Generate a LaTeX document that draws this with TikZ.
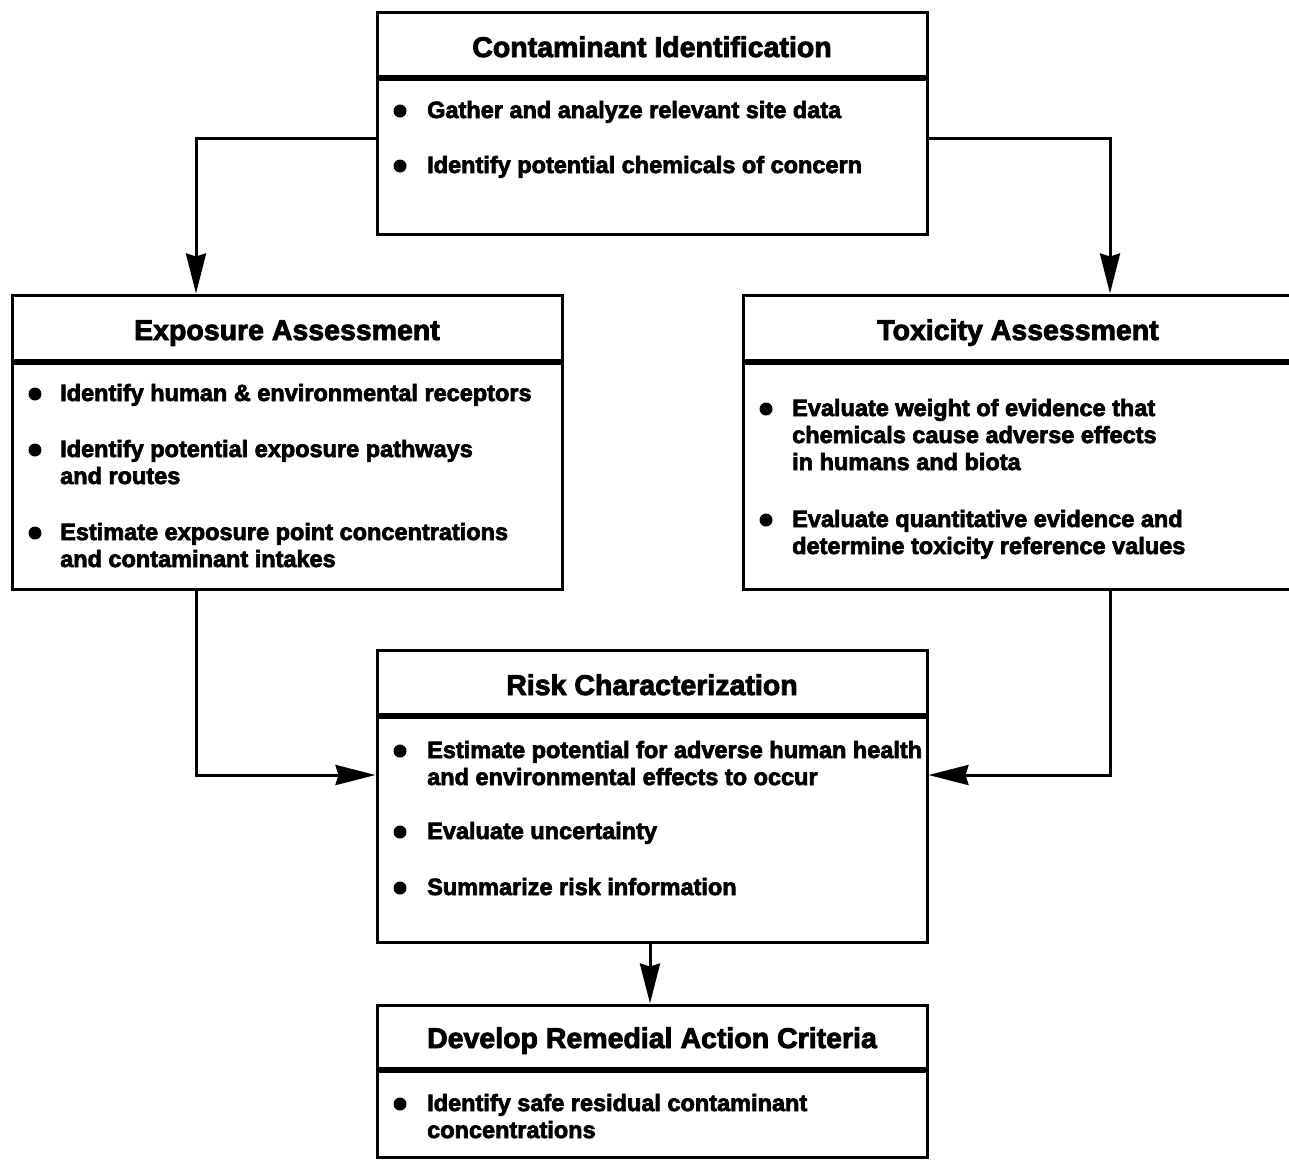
\documentclass[tikz,border=0pt]{standalone}
\usepackage{fontspec}
\setmainfont{Liberation Sans}
\newfontfamily\heavy{Liberation Sans Bold}[FakeBold=3]
\usetikzlibrary{arrows.meta}
\tikzset{
  box/.style={draw, line width=3pt, rectangle, inner sep=0pt},
  ttl/.style={font=\heavy\fontsize{28.5}{30}\selectfont, inner sep=0pt, anchor=base},
  btxt/.style={font=\heavy\fontsize{23.5}{27}\selectfont, inner sep=0pt, anchor=base west, align=left},
  dot/.style={circle, fill, inner sep=0pt, minimum size=13pt},
  divl/.style={line width=6pt},
  arr/.style={line width=3pt, -{Stealth[length=40pt,width=20pt,inset=3pt]}},
}
\begin{document}
\begin{tikzpicture}[x=1pt,y=-1pt]
\useasboundingbox (0,0) rectangle (1289,1159);

% Contaminant Identification
\node[box, minimum width=550pt, minimum height=222pt] (ci) at (652,123) {};
\node[ttl] (ci-t) at (652,57) {Contaminant Identification};
\draw[divl] (ci.west |- 0,78) -- (ci.east |- 0,78);
\node[dot] (ci-d1) at (400,111) {};
\node[btxt] (ci-b1) at (427,118) {Gather and analyze relevant site data};
\node[dot] (ci-d2) at (400,166) {};
\node[btxt] (ci-b2) at (427,173) {Identify potential chemicals of concern};

% Exposure Assessment
\node[box, minimum width=550pt, minimum height=294pt] (ea) at (287,442) {};
\node[ttl] (ea-t) at (287,340) {Exposure Assessment};
\draw[divl] (ea.west |- 0,362) -- (ea.east |- 0,362);
\node[dot] (ea-d1) at (35,394) {};
\node[btxt] (ea-b1) at (60,401) {Identify human \& environmental receptors};
\node[dot] (ea-d2) at (35,450) {};
\node[btxt] (ea-b2) at (60,484) {Identify potential exposure pathways\\and routes};
\node[dot] (ea-d3) at (35,533) {};
\node[btxt] (ea-b3) at (60,567) {Estimate exposure point concentrations\\and contaminant intakes};

% Toxicity Assessment
\node[box, minimum width=550pt, minimum height=294pt] (ta) at (1018,442) {};
\node[ttl] (ta-t) at (1018,340) {Toxicity Assessment};
\draw[divl] (ta.west |- 0,362) -- (ta.east |- 0,362);
\node[dot] (ta-d1) at (766,409) {};
\node[btxt] (ta-b1) at (792,470) {Evaluate weight of evidence that\\chemicals cause adverse effects\\in humans and biota};
\node[dot] (ta-d2) at (766,520) {};
\node[btxt] (ta-b2) at (792,554) {Evaluate quantitative evidence and\\determine toxicity reference values};

% Risk Characterization
\node[box, minimum width=550pt, minimum height=292pt] (rc) at (652,796) {};
\node[ttl] (rc-t) at (652,695) {Risk Characterization};
\draw[divl] (rc.west |- 0,716) -- (rc.east |- 0,716);
\node[dot] (rc-d1) at (400,751) {};
\node[btxt] (rc-b1) at (427,785) {Estimate potential for adverse human health\\and environmental effects to occur};
\node[dot] (rc-d2) at (400,832) {};
\node[btxt] (rc-b2) at (427,839) {Evaluate uncertainty};
\node[dot] (rc-d3) at (400,888) {};
\node[btxt] (rc-b3) at (427,895) {Summarize risk information};

% Develop Remedial Action Criteria
\node[box, minimum width=550pt, minimum height=152pt] (rd) at (652,1081) {};
\node[ttl] (rd-t) at (652,1048) {Develop Remedial Action Criteria};
\draw[divl] (rd.west |- 0,1070) -- (rd.east |- 0,1070);
\node[dot] (rd-d1) at (400,1104) {};
\node[btxt] (rd-b1) at (427,1138) {Identify safe residual contaminant\\concentrations};

% Connectors
\draw[arr] (ci.west |- 0,138) -| (ea.north -| 196,0);
\draw[arr] (ci.east |- 0,138) -| (ta.north -| 1110,0);
\draw[arr] (ea.south -| 196,0) |- (rc.west |- 0,775);
\draw[arr] (ta.south -| 1110,0) |- (rc.east |- 0,775);
\draw[arr] (rc.south -| 650,0) -- (rd.north -| 650,0);
\end{tikzpicture}
\end{document}
